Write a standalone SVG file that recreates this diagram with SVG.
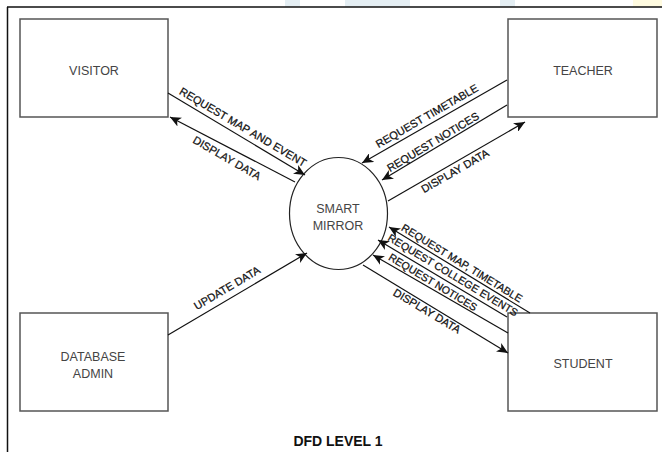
<svg xmlns="http://www.w3.org/2000/svg" width="662" height="452" viewBox="0 0 662 452">
<style>
.node{fill:#fff;stroke:#555;stroke-width:1.5}
.nt{font-family:"Liberation Sans",Arial,sans-serif;font-size:12.5px;fill:#444;text-anchor:middle}
.lb{font-family:"Liberation Sans",Arial,sans-serif;font-size:11px;fill:#111;stroke:#111;stroke-width:0.25;text-anchor:middle}
.sm{font-size:10.6px}
.ln{stroke:#111;stroke-width:1.2;fill:none;marker-end:url(#ah)}
.wm{fill:#e4eef3}
</style>
<defs>
<marker id="ah" markerUnits="userSpaceOnUse" markerWidth="12" markerHeight="10" refX="11" refY="5" orient="auto" viewBox="0 0 12 10">
<path d="M0,0 L11,5 L0,10 L3,5 z" fill="#111"/>
</marker>
</defs>
<rect width="662" height="452" fill="#fff"/>
<rect class="wm" x="285" y="0" width="15" height="7"/>
<rect class="wm" x="345" y="0" width="65" height="7"/>
<rect class="wm" x="500" y="0" width="15" height="7"/>
<rect x="633" y="0" width="29" height="7" fill="#fffbe0"/>
<path d="M7,7 H662 M7.5,7 V452" stroke="#111" stroke-width="1.5" fill="none"/>
<g id="visitor"><rect class="node" x="20" y="19" width="148" height="98"/><text class="nt" x="94" y="75">VISITOR</text></g>
<g id="teacher"><rect class="node" x="508" y="19" width="149" height="98"/><text class="nt" x="583" y="75">TEACHER</text></g>
<g id="database-admin"><rect class="node" x="20" y="313" width="148" height="98"/><text class="nt" x="93" y="361">DATABASE</text><text class="nt" x="93" y="378">ADMIN</text></g>
<g id="student"><rect class="node" x="508" y="313" width="149" height="98"/><text class="nt" x="583" y="368">STUDENT</text></g>
<g id="smart-mirror"><ellipse cx="338.5" cy="213.5" rx="49" ry="56" fill="#fff" stroke="#222" stroke-width="1.2"/><text class="nt" x="338" y="213">SMART</text><text class="nt" x="338" y="230">MIRROR</text></g>
<g id="connectors">
<line class="ln" x1="168" y1="93" x2="305" y2="175"/>
<line class="ln" x1="295" y1="182" x2="170" y2="117"/>
<line class="ln" x1="507" y1="80" x2="362" y2="163"/>
<line class="ln" x1="507" y1="105" x2="382" y2="180"/>
<line class="ln" x1="388" y1="201" x2="525" y2="122"/>
<line class="ln" x1="530" y1="313" x2="389" y2="227"/>
<line class="ln" x1="507" y1="317" x2="378" y2="240"/>
<line class="ln" x1="508" y1="333" x2="373" y2="255"/>
<line class="ln" x1="363" y1="265" x2="508" y2="353"/>
<line class="ln" x1="168" y1="335" x2="307" y2="253"/>
<text class="lb" transform="translate(243,127) rotate(30.5)" y="3.8">REQUEST MAP AND EVENT</text>
<text class="lb" transform="translate(227,158) rotate(30)" y="3.8">DISPLAY DATA</text>
<text class="lb" transform="translate(427,116) rotate(-30)" y="3.8">REQUEST TIMETABLE</text>
<text class="lb" transform="translate(433,142) rotate(-31)" y="3.8">REQUEST NOTICES</text>
<text class="lb" transform="translate(455,171) rotate(-30)" y="3.8">DISPLAY DATA</text>
<text class="lb sm" transform="translate(462,263) rotate(31.5)" y="3.8">REQUEST MAP, TIMETABLE</text>
<text class="lb sm" transform="translate(453,275) rotate(31)" y="3.8">REQUEST COLLEGE EVENTS</text>
<text class="lb sm" transform="translate(433,282) rotate(31)" y="3.8">REQUEST NOTICES</text>
<text class="lb" transform="translate(427,311) rotate(31)" y="3.8">DISPLAY DATA</text>
<text class="lb" transform="translate(227,288) rotate(-30.5)" y="3.8">UPDATE DATA</text>
</g>
<text x="338" y="446" font-family="'Liberation Sans',Arial,sans-serif" font-size="14" font-weight="bold" fill="#111" text-anchor="middle">DFD LEVEL 1</text>
</svg>
